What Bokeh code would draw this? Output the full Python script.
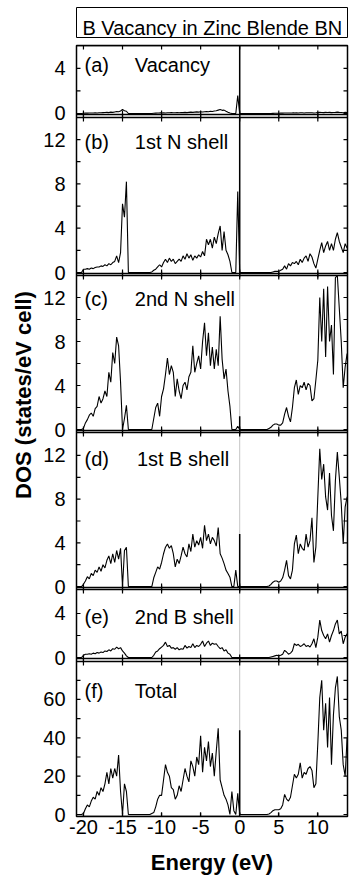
import math
from bokeh.plotting import figure
from bokeh.layouts import row, column
from bokeh.models import Range1d, FixedTicker, LinearAxis, Label, Span
from bokeh.embed import file_html
from bokeh.resources import INLINE

# ---------------- data ----------------
energy = [
    -21.0, -20.75, -20.5, -20.25, -20.0, -19.75, -19.5, -19.25,
    -19.0, -18.75, -18.5, -18.25, -18.0, -17.75, -17.5, -17.25,
    -17.0, -16.75, -16.5, -16.25, -16.0, -15.75, -15.5, -15.25,
    -15.0, -14.75, -14.5, -14.25, -14.0, -13.75, -13.5, -13.25,
    -13.0, -12.75, -12.5, -12.25, -12.0, -11.75, -11.5, -11.25,
    -11.0, -10.75, -10.5, -10.25, -10.0, -9.75, -9.5, -9.25,
    -9.0, -8.75, -8.5, -8.25, -8.0, -7.75, -7.5, -7.25,
    -7.0, -6.75, -6.5, -6.25, -6.0, -5.75, -5.5, -5.25,
    -5.0, -4.75, -4.5, -4.25, -4.0, -3.75, -3.5, -3.25,
    -3.0, -2.75, -2.5, -2.25, -2.0, -1.75, -1.5, -1.25,
    -1.0, -0.75, -0.5, -0.25, 0.0, 0.25, 0.5, 0.75,
    1.0, 1.25, 1.5, 1.75, 2.0, 2.25, 2.5, 2.75,
    3.0, 3.25, 3.5, 3.75, 4.0, 4.25, 4.5, 4.75,
    5.0, 5.25, 5.5, 5.75, 6.0, 6.25, 6.5, 6.75,
    7.0, 7.25, 7.5, 7.75, 8.0, 8.25, 8.5, 8.75,
    9.0, 9.25, 9.5, 9.75, 10.0, 10.25, 10.5, 10.75,
    11.0, 11.25, 11.5, 11.75, 12.0, 12.25, 12.5, 12.75,
    13.0, 13.25, 13.5, 13.75, 14.0,
]

dos_vacancy = [
    0, 0, 0, 0, 0.02, 0.03, 0.03, 0.04,
    0.05, 0.04, 0.06, 0.05, 0.07, 0.06, 0.08, 0.09,
    0.1, 0.08, 0.12, 0.1, 0.14, 0.18, 0.15, 0.22,
    0.35, 0.25, 0.2, 0, 0, 0, 0, 0,
    0, 0, 0, 0, 0, 0, 0, 0,
    0.02, 0.03, 0.04, 0.05, 0.05, 0.06, 0.05, 0.07,
    0.06, 0.08, 0.07, 0.06, 0.08, 0.07, 0.09, 0.08,
    0.1, 0.08, 0.1, 0.12, 0.1, 0.12, 0.14, 0.12,
    0.15, 0.13, 0.16, 0.18, 0.16, 0.2, 0.18, 0.22,
    0.25, 0.3, 0.35, 0.28, 0.3, 0.2, 0.12, 0.05,
    0, 0, 0, 1.6, 0, 0, 0, 0,
    0, 0, 0, 0, 0, 0, 0, 0,
    0, 0, 0, 0, 0, 0.01, 0.02, 0.02,
    0.02, 0.03, 0.03, 0.04, 0.04, 0.05, 0.04, 0.05,
    0.05, 0.06, 0.05, 0.06, 0.06, 0.05, 0.07, 0.06,
    0.07, 0.06, 0.05, 0.06, 0.08, 0.1, 0.09, 0.08,
    0.1, 0.09, 0.1, 0.08, 0.09, 0.1, 0.12, 0.1,
    0.09, 0.07, 0.1, 0.09, 0.09,
]

dos_1st_n = [
    0, 0, 0, 0, 0.3, 0.3, 0.35, 0.3,
    0.4, 0.35, 0.45, 0.5, 0.5, 0.6, 0.55, 0.7,
    0.6, 0.8, 0.7, 0.9, 1.0, 1.5, 0.9, 1.8,
    6.2, 5.0, 8.2, 0, 0, 0, 0, 0,
    0, 0, 0, 0, 0, 0, 0, 0.05,
    0.2, 0.3, 0.5, 0.7, 0.5, 0.9, 1.2, 0.9,
    1.3, 1.0, 1.2, 0.8, 1.0, 1.2, 1.0, 1.5,
    1.2, 1.7, 1.3, 1.6, 1.1, 1.5, 1.3, 1.6,
    1.4, 1.9, 1.5, 3.0, 2.5, 3.0, 2.2, 3.2,
    2.6, 3.5, 4.2, 2.0, 3.7, 2.0, 1.6, 1.0,
    0, 0, 0, 7.3, 0, 0, 0, 0,
    0, 0, 0, 0, 0, 0, 0, 0,
    0, 0, 0, 0, 0, 0.05, 0.1, 0.1,
    0.1, 0.2, 0.3, 0.6, 0.3, 0.8, 0.6, 0.9,
    0.8, 1.0, 0.7, 1.2, 0.9, 1.3, 1.5, 1.0,
    1.7, 1.4, 0.8, 0.4, 1.2, 2.0, 2.7, 1.8,
    2.4, 2.8, 2.0, 2.6, 2.0, 3.0, 3.6, 2.8,
    2.3, 1.8, 2.6, 2.2, 2.5,
]

dos_2nd_n = [
    0, 0, 0, 0, 0.1, 0.6, 0.9, 1.3,
    1.5, 1.2, 1.9, 2.1, 3.0, 2.4, 2.8, 3.5,
    3.0, 5.2, 4.3, 7.0, 6.0, 8.4, 7.6, 4.3,
    0, 1.0, 2.2, 0, 0, 0, 0, 0,
    0, 0, 0, 0, 0, 0, 0, 0,
    1.0, 2.0, 2.4, 1.2, 3.0, 3.7, 5.0, 6.5,
    5.0, 5.8, 5.2, 3.0, 4.6, 3.5, 2.8, 4.0,
    4.3, 3.6, 4.8, 5.2, 7.6, 5.2, 6.0, 6.7,
    5.5, 8.0, 9.7, 6.7, 8.8, 5.8, 7.5, 5.5,
    7.3, 5.8, 10.3, 6.4, 4.6, 5.5, 3.5, 2.1,
    0, 0, 0, 0.3, 0, 0, 0, 0,
    0, 0, 0, 0, 0, 0, 0, 0,
    0, 0, 0, 0.1, 0.2, 0.4, 0.5, 0.5,
    0.4, 0.4, 0.6, 1.4, 2.0, 1.2, 0.7, 2.0,
    3.8, 4.5, 3.2, 4.0, 3.8, 4.3, 3.6, 4.2,
    4.0, 2.6, 2.8, 4.5, 6.3, 12.0, 8.0, 12.8,
    6.6, 13.0, 8.0, 9.5, 5.0, 13.8, 14.0, 11.0,
    8.0, 3.8, 5.7, 6.9, 6.5,
]

dos_1st_b = [
    0, 0, 0, 0, 0.2, 0.5, 0.9, 0.7,
    1.2, 1.0, 1.5, 1.3, 1.8, 1.4, 2.0, 1.7,
    2.4, 2.8, 2.1, 3.0, 2.2, 3.3, 2.5, 3.5,
    0, 3.3, 3.6, 0, 0, 0, 0, 0,
    0, 0, 0, 0, 0, 0, 0, 0,
    0.8, 1.3, 1.8, 1.6, 2.2, 3.0, 3.6, 3.9,
    3.5, 3.75, 3.0, 1.8, 2.5, 2.1, 2.8, 3.6,
    3.0, 2.7, 3.9, 3.2, 4.8, 3.6, 4.2, 3.8,
    4.5, 3.5, 5.6, 4.2, 4.8, 3.9, 4.5, 4.2,
    3.7, 5.4, 3.0, 2.6, 2.1, 1.5, 1.2, 0.85,
    0, 0, 1.5, 0, 0, 0, 0, 0,
    0, 0, 0, 0, 0, 0, 0, 0,
    0, 0, 0, 0.05, 0.2, 0.4, 0.5, 0.5,
    0.4, 0.5, 0.8, 1.5, 2.4, 1.0, 0.7, 1.5,
    3.9, 4.7, 3.0, 3.9, 3.5, 3.3, 4.8, 3.6,
    4.2, 6.3, 2.2, 3.6, 8.2, 12.6, 9.8, 11.2,
    8.2, 7.0, 10.4, 6.5, 5.1, 9.7, 12.3, 10.0,
    7.6, 3.9, 7.3, 8.2, 8.0,
]

dos_2nd_b = [
    0, 0, 0, 0, 0.2, 0.3, 0.3, 0.35,
    0.3, 0.4, 0.35, 0.45, 0.4, 0.5, 0.45, 0.6,
    0.55, 0.7, 0.6, 0.8, 0.75, 0.95, 0.8, 0.9,
    0.6, 0.4, 0.15, 0, 0, 0, 0, 0,
    0, 0, 0, 0, 0, 0, 0, 0,
    0.2, 0.5, 0.6, 0.8, 0.95, 1.1, 1.4, 1.0,
    1.1, 0.85, 0.9, 0.75, 0.9, 0.7, 0.8, 0.75,
    1.1, 0.85, 1.0, 0.9, 1.25, 0.9, 1.1, 1.0,
    1.2, 1.5, 1.0, 1.3, 1.5, 1.1, 1.3, 1.2,
    1.25, 1.0, 0.8, 0.9, 0.6, 0.7, 0.4, 0.3,
    0, 0, 0, 0, 0, 0, 0, 0,
    0, 0, 0, 0, 0, 0, 0, 0,
    0, 0, 0, 0, 0.05, 0.1, 0.15, 0.2,
    0.15, 0.2, 0.3, 0.65, 0.5, 0.3, 0.4, 0.6,
    1.25, 1.1, 1.2, 1.0, 1.1, 1.25, 1.0, 1.1,
    0.95, 1.25, 1.7, 0.9, 1.85, 3.4, 2.45, 2.0,
    1.7, 2.15, 1.4, 2.0, 2.45, 3.05, 3.4, 2.15,
    2.4, 1.25, 1.85, 2.15, 2.0,
]

dos_total = [
    0, 0, 0, 0, 0.5, 3, 5, 4,
    7, 9, 8, 12, 10, 14, 12, 16,
    22, 16, 24, 19, 24, 20, 31, 12,
    0, 16, 12, 0, 0, 0, 0, 0,
    0, 0, 0, 0, 0, 0, 0, 0.5,
    1, 4, 8, 10, 10, 18, 26, 22,
    20, 14, 13, 8, 10, 15, 12, 18,
    24, 20, 17, 28, 25, 20, 30, 26,
    41, 22, 35, 28, 38, 25, 32, 20,
    33, 45, 18, 14, 10, 8, 5, 0,
    12, 2, 0, 11, 0, 0, 0, 0,
    0, 0, 0, 0, 0, 0, 0, 0,
    0, 0, 0, 0.3, 1, 2, 2.5, 2.5,
    2.5, 3, 5, 10.5, 8, 7, 9, 15,
    21, 19, 21, 27, 19, 22, 21, 24,
    25, 23, 14, 16, 37, 61, 70, 44,
    58, 35, 61, 26, 52, 66, 72, 51,
    44, 26, 20, 40, 37,
]

# height of the sharp defect-state line at E = 0 in each panel (a, b reach the top)
fermi_spike = [6.0, 14.0, 1.2, 4.8, 0.0, 44.0]

panel_tags = ["(a)", "(b)", "(c)", "(d)", "(e)", "(f)"]
panel_names = ["Vacancy", "1st N shell", "2nd N shell", "1st B shell", "2nd B shell", "Total"]
series = [dos_vacancy, dos_1st_n, dos_2nd_n, dos_1st_b, dos_2nd_b, dos_total]

y_major = [[0, 4], [0, 4, 8, 12], [0, 4, 8, 12], [0, 4, 8, 12], [0, 4], [0, 20, 40, 60]]
y_minor = [[2], [2, 6, 10], [2, 6, 10], [2, 6, 10], [2], [10, 30, 50, 70]]
x_ticks = [-20, -15, -10, -5, 0, 5, 10]
x_tick_labels = ["-20", "-15", "-10", "-5", "0", "5", "10"]

title_text = "B Vacancy in Zinc Blende BN"
x_label = "Energy (eV)"
y_label = "DOS (states/eV cell)"

# ---------------- layout / style ----------------
FONT = "Liberation Sans"
X_START, X_END = -20.89, 13.8
PAGE_H = 879
STRIP_W = 66          # left strip: y title and y tick labels
FRAME_TOP = 45        # page y of the panels' frame top
FRAME_H = 771
# panel value limits and the pixel band (from frame top) each panel occupies
y_limits = [(-0.09, 6.04), (-0.09, 13.99), (-0.09, 14.0), (-0.09, 14.1), (-0.09, 6.18), (-1.04, 79.8)]
bands = [(0, 69), (72, 228), (230, 385), (387, 542), (544, 613), (616, 771)]
tag_y = [4.27, 11.8, 11.9, 11.7, 3.7, 64.2]
name_x = [-13.42, -13.42, -13.42, -13.16, -13.42, -13.42]


def band_range(i, offset, height):
    """Range1d so that panel i's limits fall on its band inside a frame of the given height."""
    lo, hi = y_limits[i]
    top, bot = bands[i]
    top += offset
    bot += offset
    k = (bot - top) / (hi - lo)
    return Range1d(lo - (height - bot) / k, hi + top / k)


main = figure(width=349 - STRIP_W, height=PAGE_H - 44,
              x_range=Range1d(X_START, X_END), y_range=Range1d(0, 1),
              x_axis_type=None, y_axis_type=None, output_backend="svg", toolbar_location=None,
              min_border_left=74 - STRIP_W, min_border_right=1, min_border_top=1,
              min_border_bottom=63,
              outline_line_color="black", outline_line_width=1.5,
              background_fill_color="white", border_fill_color="white")

# left strip holding the y title and the y tick labels
lf = figure(width=STRIP_W, height=PAGE_H, x_range=Range1d(0, STRIP_W), y_range=Range1d(0, PAGE_H),
            x_axis_type=None, y_axis_type=None, output_backend="svg", toolbar_location=None,
            min_border=0, outline_line_color=None)
lf.add_layout(Label(x=23, y=484.5, text=y_label, angle=math.pi / 2, text_align="center",
                    text_baseline="middle", text_font=FONT, text_font_style="bold",
                    text_font_size="22px", text_color="black"))

# dotted Fermi-level line through all panels
main.add_layout(Span(location=0, dimension="height", line_color="#888888",
                     line_dash="1 1", line_width=1, level="underlay"))

for i in range(6):
    name = "panel%d" % i
    lo, hi = y_limits[i]
    main.extra_y_ranges[name] = band_range(i, 0, FRAME_H)
    lf.extra_y_ranges[name] = band_range(i, FRAME_TOP, PAGE_H)

    # panel box edges (top and bottom)
    for loc in (lo, hi):
        main.add_layout(Span(location=loc, dimension="width", y_range_name=name,
                             line_color="black", line_width=1.5))

    # curve and the sharp line at E = 0
    main.line(energy, series[i], line_color="black", line_width=1.1, y_range_name=name)
    if fermi_spike[i] > 0:
        main.segment(x0=[0], y0=[0], x1=[0], y1=[fermi_spike[i]],
                     line_color="black", line_width=1.5, y_range_name=name)

    # inward ticks on left/right edges
    yt = y_major[i] + y_minor[i]
    main.scatter(x=[X_START] * len(yt) + [X_END] * len(yt), y=yt + yt, marker="dash",
                 size=8, line_color="black", line_width=1.2, y_range_name=name)
    # inward ticks on top/bottom edges
    main.scatter(x=x_ticks + x_ticks, y=[lo] * len(x_ticks) + [hi] * len(x_ticks),
                 marker="dash", angle=math.pi / 2, size=8, line_color="black",
                 line_width=1.2, y_range_name=name)

    # y tick labels (in the strip, on the same value scale)
    for v in y_major[i]:
        lf.add_layout(Label(x=STRIP_W, y=v, y_range_name=name, text=str(v),
                            x_offset=-1, text_align="right", text_baseline="middle",
                            text_font=FONT, text_font_size="20px", text_color="black"))

    # panel captions
    main.add_layout(Label(x=-19.87, y=tag_y[i], y_range_name=name, text=panel_tags[i],
                          text_font=FONT, text_font_size="20px", text_color="black",
                          text_baseline="alphabetic"))
    main.add_layout(Label(x=name_x[i], y=tag_y[i], y_range_name=name, text=panel_names[i],
                          text_font=FONT, text_font_size="20px", text_color="black",
                          text_baseline="alphabetic"))

xaxis = LinearAxis(ticker=FixedTicker(ticks=x_ticks))
xaxis.axis_line_color = None
xaxis.major_tick_in = 4
xaxis.major_tick_out = 0
xaxis.major_tick_line_color = "black"
xaxis.major_tick_line_width = 1.2
xaxis.major_label_overrides = {t: s for t, s in zip(x_ticks, x_tick_labels)}
xaxis.major_label_standoff = 3
xaxis.major_label_text_font = FONT
xaxis.major_label_text_font_size = "20px"
xaxis.major_label_text_color = "black"
xaxis.axis_label = x_label
xaxis.axis_label_text_font = FONT
xaxis.axis_label_text_font_style = "bold"
xaxis.axis_label_text_font_size = "22px"
xaxis.axis_label_text_color = "black"
xaxis.axis_label_standoff = 13
main.add_layout(xaxis, "below")

# title box
tf = figure(width=349 - STRIP_W, height=44, x_range=Range1d(0, 1), y_range=Range1d(0, 1),
            x_axis_type=None, y_axis_type=None, output_backend="svg", toolbar_location=None,
            min_border_left=76 - STRIP_W, min_border_right=2, min_border_top=7,
            min_border_bottom=7, outline_line_color="black", outline_line_width=1)
tf.add_layout(Label(x=0.022, y=0.317, text=title_text, text_font=FONT, text_font_size="20px",
                    text_color="black", text_baseline="middle"))

layout = row(lf, column(tf, main))

open("out.html", "w").write(file_html(layout, INLINE))
